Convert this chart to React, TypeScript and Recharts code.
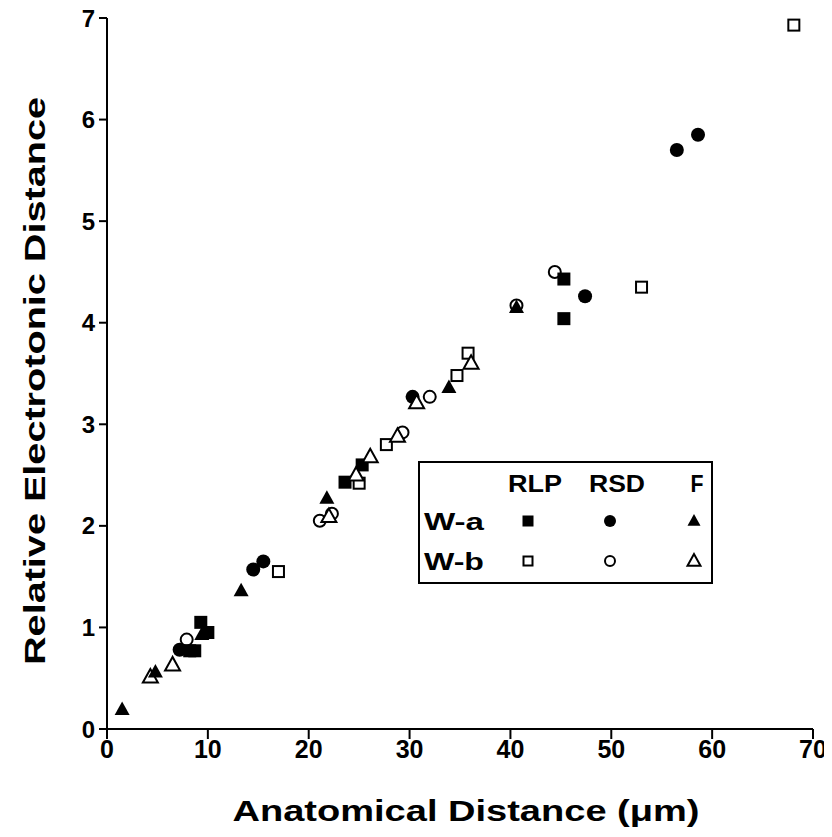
import React from "react";
import { ScatterChart, Scatter, XAxis, YAxis } from "recharts";

// ---- Data (Anatomical distance µm, relative electrotonic distance) ----
const xTicks = [0, 10, 20, 30, 40, 50, 60, 70];
const yTicks = [0, 1, 2, 3, 4, 5, 6, 7];

const waRLP = [
  { x: 8.2, y: 0.77 }, { x: 8.7, y: 0.77 }, { x: 9.3, y: 1.05 }, { x: 10.0, y: 0.95 },
  { x: 23.6, y: 2.43 }, { x: 25.3, y: 2.6 }, { x: 45.3, y: 4.43 }, { x: 45.3, y: 4.04 },
];
const wbRLP = [
  { x: 17.0, y: 1.55 }, { x: 25.0, y: 2.42 }, { x: 27.7, y: 2.8 }, { x: 34.7, y: 3.48 },
  { x: 35.8, y: 3.7 }, { x: 53.0, y: 4.35 }, { x: 68.1, y: 6.93 },
];
const waRSD = [
  { x: 7.2, y: 0.78 }, { x: 14.5, y: 1.57 }, { x: 15.5, y: 1.65 }, { x: 30.3, y: 3.27 },
  { x: 47.4, y: 4.26 }, { x: 56.5, y: 5.7 }, { x: 58.6, y: 5.85 },
];
const wbRSD = [
  { x: 7.9, y: 0.88 }, { x: 21.1, y: 2.05 }, { x: 22.3, y: 2.12 }, { x: 29.3, y: 2.92 },
  { x: 32.0, y: 3.27 }, { x: 40.6, y: 4.17 }, { x: 44.4, y: 4.5 },
];
const waF = [
  { x: 1.5, y: 0.19 }, { x: 4.8, y: 0.56 }, { x: 9.4, y: 0.93 }, { x: 13.3, y: 1.36 },
  { x: 21.8, y: 2.27 }, { x: 33.9, y: 3.36 }, { x: 40.6, y: 4.15 },
];
const wbF = [
  { x: 4.3, y: 0.51 }, { x: 6.5, y: 0.63 }, { x: 22.0, y: 2.09 }, { x: 24.7, y: 2.5 },
  { x: 26.1, y: 2.68 }, { x: 28.8, y: 2.88 }, { x: 30.7, y: 3.21 }, { x: 36.1, y: 3.6 },
];

const xTitle = "Anatomical Distance (\u03bcm)";
const yTitle = "Relative Electrotonic Distance";
const legendCols = ["RLP", "RSD", "F"];
const legendRows = ["W-a", "W-b"];

const FONT = "'Liberation Sans', Arial, Helvetica, sans-serif";

// ---- Symbols ----
const sq = (cx: number, cy: number, filled: boolean, s = 13) =>
  filled ? (
    <rect x={cx - s / 2} y={cy - s / 2} width={s} height={s} fill="#000" />
  ) : (
    <rect x={cx - s / 2 + 1} y={cy - s / 2 + 1} width={s - 2} height={s - 2} fill="#fff" stroke="#000" strokeWidth={2} />
  );
const circ = (cx: number, cy: number, filled: boolean, r = 7) =>
  filled ? (
    <circle cx={cx} cy={cy} r={r} fill="#000" />
  ) : (
    <circle cx={cx} cy={cy} r={r - 1} fill="#fff" stroke="#000" strokeWidth={2} />
  );
const tri = (cx: number, cy: number, filled: boolean, s = 15) => {
  const h = s * 0.9;
  const pts = `${cx},${cy - h * 0.6} ${cx - s / 2},${cy + h * 0.4} ${cx + s / 2},${cy + h * 0.4}`;
  return filled ? (
    <polygon points={pts} fill="#000" />
  ) : (
    <polygon points={pts} fill="#fff" stroke="#000" strokeWidth={2} strokeLinejoin="miter" />
  );
};

const shapeOf = (kind: "sq" | "circ" | "tri", filled: boolean) => (p: any) => {
  const cx = p.cx, cy = p.cy;
  if (cx == null || cy == null) return <g />;
  if (kind === "sq") return sq(cx, cy, filled);
  if (kind === "circ") return circ(cx, cy, filled);
  return tri(cx, cy, filled);
};

const W = 832;
const H = 837;

export default function App() {
  const tickStyleX = { fill: "#000", fontSize: 25, fontWeight: 700, fontFamily: FONT };
  const tickStyleY = { fill: "#000", fontSize: 24, fontWeight: 700, fontFamily: FONT };
  const legendSym = [
    [(x: number, y: number) => sq(x, y, true, 11), (x: number, y: number) => circ(x, y, true, 6), (x: number, y: number) => tri(x, y, true, 13)],
    [(x: number, y: number) => sq(x, y, false, 11), (x: number, y: number) => circ(x, y, false, 6), (x: number, y: number) => tri(x, y, false, 13)],
  ];
  const colX = [117, 199, 279];
  const colW = [54, 56, 13];
  const symX = [110, 192, 276];
  const rowY = [60, 100];
  return (
    <div style={{ position: "relative", width: W, height: H, background: "#fff", margin: "-8px 0 0 -8px" }}>
      <ScatterChart width={W} height={H} margin={{ top: 18, right: 19, bottom: 48, left: 47 }}>
        <XAxis
          type="number"
          dataKey="x"
          domain={[0, 70]}
          ticks={xTicks}
          interval={0}
          height={60}
          tickSize={10}
          tickMargin={1}
          axisLine={{ stroke: "#000", strokeWidth: 2 }}
          tickLine={{ stroke: "#000", strokeWidth: 2 }}
          tick={tickStyleX}
        />
        <YAxis
          type="number"
          dataKey="y"
          domain={[0, 7]}
          ticks={yTicks}
          interval={0}
          width={60}
          tickSize={8}
          tickMargin={4}
          axisLine={{ stroke: "#000", strokeWidth: 2 }}
          tickLine={{ stroke: "#000", strokeWidth: 2 }}
          tick={tickStyleY}
        />
        <Scatter name="W-b RSD" data={wbRSD} shape={shapeOf("circ", false)} isAnimationActive={false} />
        <Scatter name="W-a RLP" data={waRLP} shape={shapeOf("sq", true)} isAnimationActive={false} />
        <Scatter name="W-b RLP" data={wbRLP} shape={shapeOf("sq", false)} isAnimationActive={false} />
        <Scatter name="W-a RSD" data={waRSD} shape={shapeOf("circ", true)} isAnimationActive={false} />
        <Scatter name="W-b F" data={wbF} shape={shapeOf("tri", false)} isAnimationActive={false} />
        <Scatter name="W-a F" data={waF} shape={shapeOf("tri", true)} isAnimationActive={false} />
      </ScatterChart>

      <svg width={W} height={H} style={{ position: "absolute", left: 0, top: 0, pointerEvents: "none" }}>
        <text
          x={466}
          y={821}
          textAnchor="middle"
          fontFamily={FONT}
          fontWeight={700}
          fontSize={30}
          fill="#000"
          textLength={467}
          lengthAdjust="spacingAndGlyphs"
        >
          {xTitle}
        </text>
        <text
          transform="translate(45, 381) rotate(-90)"
          textAnchor="middle"
          fontFamily={FONT}
          fontWeight={700}
          fontSize={30}
          fill="#000"
          textLength={568}
          lengthAdjust="spacingAndGlyphs"
        >
          {yTitle}
        </text>
        <g transform="translate(418, 461)">
          <rect x={1} y={1} width={293} height={121} fill="#fff" stroke="#000" strokeWidth={2} />
          {legendCols.map((c, i) => (
            <text
              key={c}
              x={colX[i]}
              y={31}
              textAnchor="middle"
              fontFamily={FONT}
              fontWeight={700}
              fontSize={23}
              fill="#000"
              textLength={colW[i]}
              lengthAdjust="spacingAndGlyphs"
            >
              {c}
            </text>
          ))}
          {legendRows.map((r, j) => (
            <text
              key={r}
              x={6}
              y={rowY[j] + 9}
              fontFamily={FONT}
              fontWeight={700}
              fontSize={24}
              fill="#000"
              textLength={60}
              lengthAdjust="spacingAndGlyphs"
            >
              {r}
            </text>
          ))}
          {legendRows.map((r, j) =>
            legendSym[j].map((fn, i) => <g key={r + i}>{fn(symX[i], rowY[j])}</g>)
          )}
        </g>
      </svg>
    </div>
  );
}
